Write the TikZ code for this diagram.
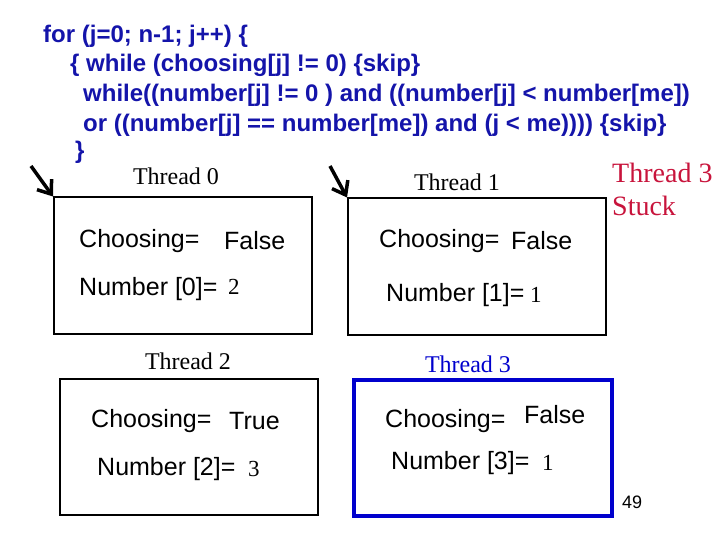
\documentclass[tikz,border=0pt]{standalone}
\usepackage{fontspec}
\setmainfont{Liberation Serif}
\setsansfont{Liberation Sans}
\begin{document}
\begin{tikzpicture}[x=1pt,y=-1pt,
  code/.style={anchor=west,inner sep=0,font=\sffamily\bfseries\fontsize{24}{24}\selectfont,text=codeblue},
  sans/.style={anchor=west,inner sep=0,font=\sffamily\fontsize{25}{25}\selectfont},
  serif/.style={anchor=west,inner sep=0,font=\fontsize{23}{23}\selectfont},
  lbl/.style={inner sep=0,font=\fontsize{24}{24}\selectfont},
  box/.style={draw,line width=2pt,minimum width=258pt,minimum height=136pt,inner sep=0},
  arr/.style={-{Straight Barb[length=12pt,width=18pt,line width=3.5pt]},line width=3.5pt}]
\usetikzlibrary{arrows.meta}
\definecolor{codeblue}{RGB}{20,20,170}
\definecolor{stuckred}{RGB}{200,20,60}
\definecolor{tblue}{RGB}{0,0,205}
\useasboundingbox (0,0) rectangle (720,540);
\node[code] (l1) at (43,36) {for (j=0; n-1; j++) \{};
\node[code] (l2) at (70,65) {\{ while (choosing[j] != 0) \{skip\}};
\node[code] (l3) at (83,95) {while((number[j] != 0 ) and ((number[j] < number[me])};
\node[code] (l4) at (83,125) {or ((number[j] == number[me]) and (j < me)))) \{skip\}};
\node[code] (l5) at (75,152) {\}};
\node[box] (b0) at (183,265.5) {};
\node[box] (b1) at (477,266.5) {};
\node[box] (b2) at (189,446.5) {};
\node[box,draw=tblue,line width=4pt] (b3) at (483,447.5) {};
\node[lbl] (t0) at (176,176) {Thread 0};
\node[lbl] (t1) at (457,182) {Thread 1};
\node[lbl] (t2) at (188,361) {Thread 2};
\node[lbl,text=tblue] (t3) at (468,364) {Thread 3};
\node[anchor=west,inner sep=0,align=left,text=stuckred,font=\fontsize{28}{33}\selectfont] (st) at (612,189) {Thread 3\\Stuck};
\coordinate (a0) at (31,166);
\coordinate (a1) at (330,166);
\draw[arr] (a0) -- (b0.north west);
\draw[arr] (a1) -- (b1.north west);
\node[sans] (c0) at (79,241) {Choosing=};
\node[sans] (v0) at (224,241) {False};
\node[sans] (n0) at (79,289) {Number [0]=};
\node[serif] (w0) at (228,287) {2};
\node[sans] (c1) at (379,241) {Choosing=};
\node[sans] (v1) at (511,241) {False};
\node[sans] (n1) at (386,295) {Number [1]=};
\node[serif] (w1) at (530,295) {1};
\node[sans] (c2) at (91,421) {Choosing=};
\node[sans] (v2) at (229,421) {True};
\node[sans] (n2) at (97,469) {Number [2]=};
\node[serif] (w2) at (248,469) {3};
\node[sans] (c3) at (385,421) {Choosing=};
\node[sans] (v3) at (524,415) {False};
\node[sans] (n3) at (391,463) {Number [3]=};
\node[serif] (w3) at (542,463) {1};
\node[anchor=west,inner sep=0,font=\sffamily\fontsize{18}{18}\selectfont] (pg) at (622,502) {49};
\end{tikzpicture}
\end{document}
